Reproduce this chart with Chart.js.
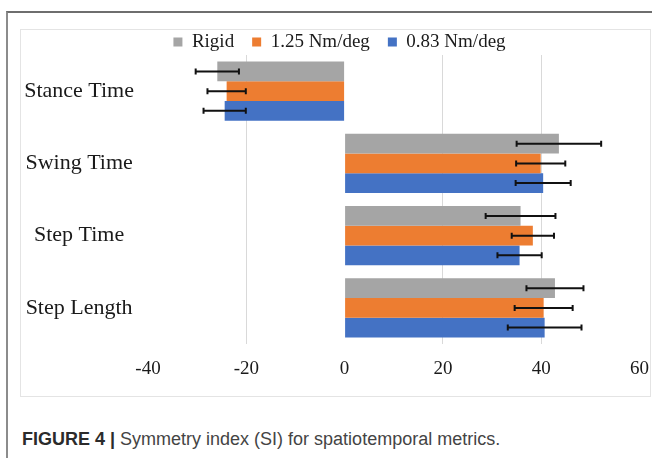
<!DOCTYPE html>
<html>
<head>
<meta charset="utf-8">
<script src="https://cdn.jsdelivr.net/npm/chart.js@4.4.1/dist/chart.umd.min.js"></script>
<style>
  html, body { margin: 0; padding: 0; background: #fff; width: 652px; height: 458px; overflow: hidden; }
  #frame { position: absolute; left: 6px; top: 11px; width: 700px; height: 500px;
           border-top: 2px solid #6e6e6e; border-left: 2px solid #8c8c8c; }
  #box { position: absolute; left: 20px; top: 29px; width: 629px; height: 366px; border: 1px solid #e4e4e4; }
  #wrap { position: absolute; left: 0; top: 0; width: 663px; height: 400px; }
  #caption { position: absolute; left: 22px; top: 429px; font-family: "Liberation Sans", Arial, sans-serif;
             font-size: 18px; color: #444; white-space: nowrap; }
  #caption b { color: #2b2b2b; }
</style>
</head>
<body>
<div id="frame"></div>
<div id="box"></div>
<div id="wrap"><canvas id="chart"></canvas></div>
<div id="caption"><b>FIGURE 4 |</b> Symmetry index (SI) for spatiotemporal metrics.</div>
<script>
// data
const categories = ['Stance Time', 'Swing Time', 'Step Time', 'Step Length'];
const seriesNames = ['Rigid', '1.25 Nm/deg', '0.83 Nm/deg'];
const rigid = [-25.9, 43.6, 35.8, 42.8];
const stiff125 = [-24.0, 39.9, 38.3, 40.5];
const stiff083 = [-24.4, 40.4, 35.6, 40.7];
const rigidErr = [4.4, 8.6, 7.1, 5.8];
const stiff125Err = [3.9, 5.0, 4.3, 5.9];
const stiff083Err = [4.3, 5.6, 4.5, 7.5];
const xTicks = [-40, -20, 0, 20, 40, 60];

const colors = ['#A5A5A5', '#ED7D31', '#4472C4'];
const serif = '"Liberation Serif", "Times New Roman", serif';

const errorBars = {
  id: 'errorBars',
  afterDatasetsDraw(chart) {
    const ctx = chart.ctx;
    const x = chart.scales.x;
    ctx.save();
    ctx.strokeStyle = '#111';
    ctx.lineWidth = 2;
    chart.data.datasets.forEach((ds, i) => {
      const meta = chart.getDatasetMeta(i);
      meta.data.forEach((bar, j) => {
        const v = ds.data[j], e = ds.err[j];
        const x1 = x.getPixelForValue(v - e), x2 = x.getPixelForValue(v + e);
        const y = bar.y;
        ctx.beginPath();
        ctx.moveTo(x1, y); ctx.lineTo(x2, y);
        ctx.moveTo(x1, y - 3); ctx.lineTo(x1, y + 3);
        ctx.moveTo(x2, y - 3); ctx.lineTo(x2, y + 3);
        ctx.stroke();
      });
    });
    ctx.restore();
  }
};

// legend in the source sits closer to the plot than Chart.js spaces it
const tightLegend = {
  id: 'tightLegend',
  beforeInit(chart) {
    const lg = chart.legend;
    if (!lg || lg._tight) return;
    const fit = lg.fit;
    lg.fit = function () { fit.call(this); this.height -= 6.5; };
    lg._tight = true;
  }
};

new Chart(document.getElementById('chart'), {
  type: 'bar',
  data: {
    labels: categories,
    datasets: [
      { label: seriesNames[0], data: rigid, err: rigidErr, backgroundColor: colors[0] },
      { label: seriesNames[1], data: stiff125, err: stiff125Err, backgroundColor: colors[1] },
      { label: seriesNames[2], data: stiff083, err: stiff083Err, backgroundColor: colors[2] }
    ]
  },
  options: {
    indexAxis: 'y',
    responsive: true,
    maintainAspectRatio: false,
    animation: false,
    categoryPercentage: 0.82,
    barPercentage: 1.0,
    layout: { padding: { left: 20, right: 4, top: 14.5, bottom: 0 } },
    plugins: {
      legend: {
        position: 'top',
        labels: {
          boxWidth: 9, boxHeight: 9, padding: 18,
          color: '#1a1a1a',
          font: { family: serif, size: 19 }
        }
      },
      tooltip: { enabled: false }
    },
    scales: {
      x: {
        min: -40, max: 60,
        afterBuildTicks(s) { s.ticks = xTicks.map(v => ({ value: v })); },
        afterFit(s) { s.height = 56; },
        border: { display: false },
        grid: {
          drawTicks: false,
          color: c => (c.tick && (c.tick.value === -40 || c.tick.value === 0 || c.tick.value === 60)) ? 'rgba(0,0,0,0)' : '#d9d9d9'
        },
        ticks: { padding: 14, color: '#1a1a1a', font: { family: serif, size: 19 } }
      },
      y: {
        afterFit(s) { s.width = 128; },
        border: { display: false },
        grid: { display: false, drawTicks: false },
        ticks: { padding: 14, crossAlign: 'center', color: '#1a1a1a', font: { family: serif, size: 22 } }
      }
    }
  },
  plugins: [tightLegend, errorBars]
});
</script>
</body>
</html>
